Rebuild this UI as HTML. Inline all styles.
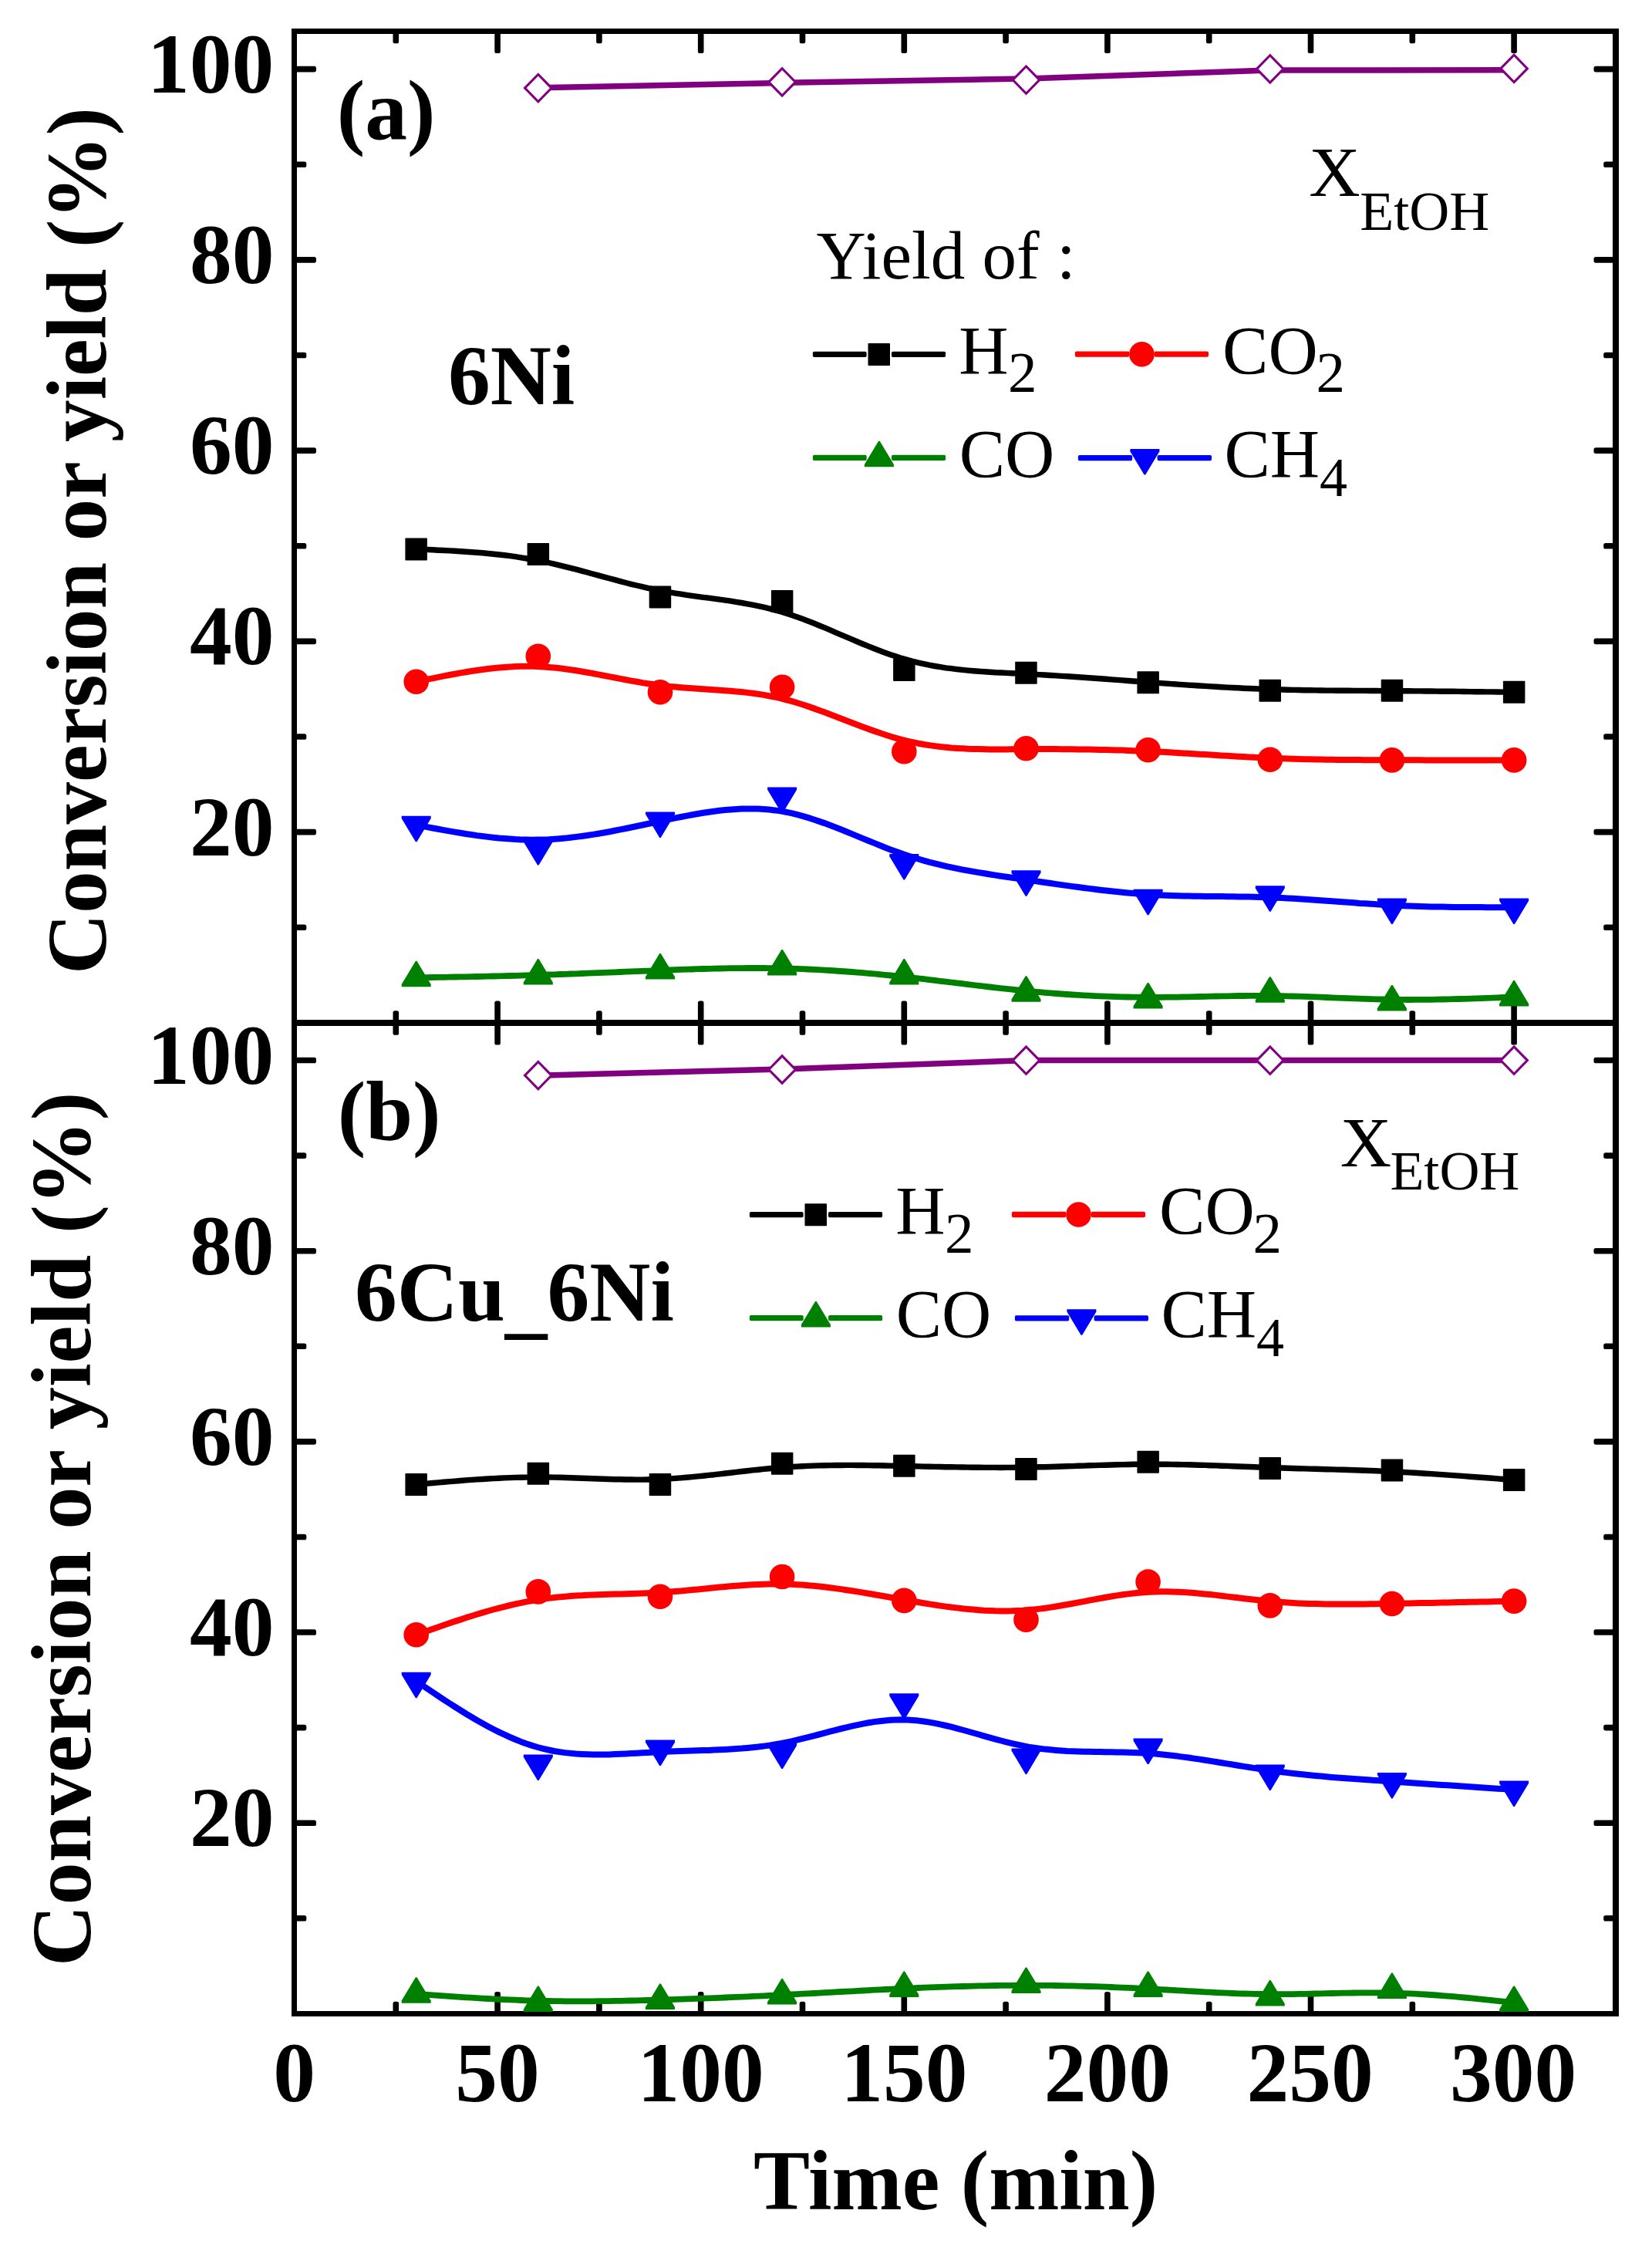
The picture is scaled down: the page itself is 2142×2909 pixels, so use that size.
<!DOCTYPE html>
<html><head><meta charset="utf-8"><title>Conversion or yield vs time</title>
<style>html,body{margin:0;padding:0;background:#fff}svg{display:block}</style></head>
<body>
<svg width="2142" height="2909" viewBox="0 0 2142 2909">
<rect width="2142" height="2909" fill="#fff"/>
<g fill="#000"><rect x="509.50" y="40.50" width="7.6" height="15.80" rx="2.6"/><rect x="509.50" y="1310.20" width="7.6" height="31.60" rx="2.6"/><rect x="509.50" y="2594.70" width="7.6" height="15.80" rx="2.6"/><rect x="641.30" y="40.50" width="7.6" height="28.50" rx="2.6"/><rect x="641.30" y="1297.50" width="7.6" height="57.00" rx="2.6"/><rect x="641.30" y="2582.00" width="7.6" height="28.50" rx="2.6"/><rect x="773.10" y="40.50" width="7.6" height="15.80" rx="2.6"/><rect x="773.10" y="1310.20" width="7.6" height="31.60" rx="2.6"/><rect x="773.10" y="2594.70" width="7.6" height="15.80" rx="2.6"/><rect x="904.90" y="40.50" width="7.6" height="28.50" rx="2.6"/><rect x="904.90" y="1297.50" width="7.6" height="57.00" rx="2.6"/><rect x="904.90" y="2582.00" width="7.6" height="28.50" rx="2.6"/><rect x="1036.70" y="40.50" width="7.6" height="15.80" rx="2.6"/><rect x="1036.70" y="1310.20" width="7.6" height="31.60" rx="2.6"/><rect x="1036.70" y="2594.70" width="7.6" height="15.80" rx="2.6"/><rect x="1168.50" y="40.50" width="7.6" height="28.50" rx="2.6"/><rect x="1168.50" y="1297.50" width="7.6" height="57.00" rx="2.6"/><rect x="1168.50" y="2582.00" width="7.6" height="28.50" rx="2.6"/><rect x="1300.30" y="40.50" width="7.6" height="15.80" rx="2.6"/><rect x="1300.30" y="1310.20" width="7.6" height="31.60" rx="2.6"/><rect x="1300.30" y="2594.70" width="7.6" height="15.80" rx="2.6"/><rect x="1432.10" y="40.50" width="7.6" height="28.50" rx="2.6"/><rect x="1432.10" y="1297.50" width="7.6" height="57.00" rx="2.6"/><rect x="1432.10" y="2582.00" width="7.6" height="28.50" rx="2.6"/><rect x="1563.90" y="40.50" width="7.6" height="15.80" rx="2.6"/><rect x="1563.90" y="1310.20" width="7.6" height="31.60" rx="2.6"/><rect x="1563.90" y="2594.70" width="7.6" height="15.80" rx="2.6"/><rect x="1695.70" y="40.50" width="7.6" height="28.50" rx="2.6"/><rect x="1695.70" y="1297.50" width="7.6" height="57.00" rx="2.6"/><rect x="1695.70" y="2582.00" width="7.6" height="28.50" rx="2.6"/><rect x="1827.50" y="40.50" width="7.6" height="15.80" rx="2.6"/><rect x="1827.50" y="1310.20" width="7.6" height="31.60" rx="2.6"/><rect x="1827.50" y="2594.70" width="7.6" height="15.80" rx="2.6"/><rect x="1959.30" y="40.50" width="7.6" height="28.50" rx="2.6"/><rect x="1959.30" y="1297.50" width="7.6" height="57.00" rx="2.6"/><rect x="1959.30" y="2582.00" width="7.6" height="28.50" rx="2.6"/><rect x="381.50" y="1198.48" width="15.80" height="7.6" rx="2.6"/><rect x="2079.20" y="1198.48" width="15.80" height="7.6" rx="2.6"/><rect x="381.50" y="2483.01" width="15.80" height="7.6" rx="2.6"/><rect x="2079.20" y="2483.01" width="15.80" height="7.6" rx="2.6"/><rect x="381.50" y="1074.85" width="28.50" height="7.6" rx="2.6"/><rect x="2066.50" y="1074.85" width="28.50" height="7.6" rx="2.6"/><rect x="381.50" y="2359.42" width="28.50" height="7.6" rx="2.6"/><rect x="2066.50" y="2359.42" width="28.50" height="7.6" rx="2.6"/><rect x="381.50" y="951.23" width="15.80" height="7.6" rx="2.6"/><rect x="2079.20" y="951.23" width="15.80" height="7.6" rx="2.6"/><rect x="381.50" y="2235.83" width="15.80" height="7.6" rx="2.6"/><rect x="2079.20" y="2235.83" width="15.80" height="7.6" rx="2.6"/><rect x="381.50" y="827.60" width="28.50" height="7.6" rx="2.6"/><rect x="2066.50" y="827.60" width="28.50" height="7.6" rx="2.6"/><rect x="381.50" y="2112.24" width="28.50" height="7.6" rx="2.6"/><rect x="2066.50" y="2112.24" width="28.50" height="7.6" rx="2.6"/><rect x="381.50" y="703.98" width="15.80" height="7.6" rx="2.6"/><rect x="2079.20" y="703.98" width="15.80" height="7.6" rx="2.6"/><rect x="381.50" y="1988.65" width="15.80" height="7.6" rx="2.6"/><rect x="2079.20" y="1988.65" width="15.80" height="7.6" rx="2.6"/><rect x="381.50" y="580.35" width="28.50" height="7.6" rx="2.6"/><rect x="2066.50" y="580.35" width="28.50" height="7.6" rx="2.6"/><rect x="381.50" y="1865.06" width="28.50" height="7.6" rx="2.6"/><rect x="2066.50" y="1865.06" width="28.50" height="7.6" rx="2.6"/><rect x="381.50" y="456.73" width="15.80" height="7.6" rx="2.6"/><rect x="2079.20" y="456.73" width="15.80" height="7.6" rx="2.6"/><rect x="381.50" y="1741.47" width="15.80" height="7.6" rx="2.6"/><rect x="2079.20" y="1741.47" width="15.80" height="7.6" rx="2.6"/><rect x="381.50" y="333.10" width="28.50" height="7.6" rx="2.6"/><rect x="2066.50" y="333.10" width="28.50" height="7.6" rx="2.6"/><rect x="381.50" y="1617.88" width="28.50" height="7.6" rx="2.6"/><rect x="2066.50" y="1617.88" width="28.50" height="7.6" rx="2.6"/><rect x="381.50" y="209.48" width="15.80" height="7.6" rx="2.6"/><rect x="2079.20" y="209.48" width="15.80" height="7.6" rx="2.6"/><rect x="381.50" y="1494.29" width="15.80" height="7.6" rx="2.6"/><rect x="2079.20" y="1494.29" width="15.80" height="7.6" rx="2.6"/><rect x="381.50" y="85.85" width="28.50" height="7.6" rx="2.6"/><rect x="2066.50" y="85.85" width="28.50" height="7.6" rx="2.6"/><rect x="381.50" y="1370.70" width="28.50" height="7.6" rx="2.6"/><rect x="2066.50" y="1370.70" width="28.50" height="7.6" rx="2.6"/></g>
<g fill="#000"><rect x="378" y="37" width="7" height="2577"/><rect x="378" y="37" width="1721" height="7"/><rect x="2091" y="37" width="8" height="2577"/><rect x="378" y="2607" width="1721" height="7"/><rect x="378" y="1322" width="1721" height="8"/></g>
<path d="M539.7 711.9 L546.8 712.2 L554.0 712.5 L561.1 712.8 L568.3 713.2 L575.4 713.5 L582.6 713.9 L589.7 714.3 L596.9 714.7 L604.0 715.2 L611.2 715.7 L618.3 716.2 L625.5 716.8 L632.6 717.5 L639.8 718.2 L647.0 719.0 L654.1 719.8 L661.3 720.7 L668.4 721.7 L675.6 722.8 L682.7 724.0 L689.9 725.2 L697.0 726.5 L704.2 728.0 L711.3 729.5 L718.5 731.1 L725.6 732.8 L732.8 734.6 L739.9 736.4 L747.1 738.2 L754.2 740.1 L761.4 742.0 L768.6 744.0 L775.7 745.9 L782.9 747.8 L790.0 749.8 L797.2 751.7 L804.3 753.6 L811.5 755.5 L818.6 757.3 L825.8 759.0 L832.9 760.7 L840.1 762.3 L847.2 763.9 L854.4 765.3 L861.5 766.7 L868.7 767.9 L875.8 769.1 L883.0 770.2 L890.2 771.3 L897.3 772.3 L904.5 773.3 L911.6 774.3 L918.8 775.2 L925.9 776.2 L933.1 777.2 L940.2 778.2 L947.4 779.2 L954.5 780.4 L961.7 781.5 L968.8 782.8 L976.0 784.2 L983.1 785.6 L990.3 787.2 L997.4 788.9 L1004.6 790.8 L1011.8 792.8 L1018.9 794.9 L1026.1 797.3 L1033.2 799.7 L1040.4 802.3 L1047.5 805.0 L1054.7 807.8 L1061.8 810.7 L1069.0 813.7 L1076.1 816.7 L1083.3 819.8 L1090.4 822.8 L1097.6 825.9 L1104.7 828.9 L1111.9 832.0 L1119.1 835.0 L1126.2 837.9 L1133.4 840.7 L1140.5 843.5 L1147.7 846.2 L1154.8 848.7 L1162.0 851.1 L1169.1 853.4 L1176.3 855.4 L1183.4 857.4 L1190.6 859.1 L1197.7 860.7 L1204.9 862.2 L1212.0 863.5 L1219.2 864.7 L1226.3 865.8 L1233.5 866.7 L1240.7 867.6 L1247.8 868.4 L1255.0 869.1 L1262.1 869.7 L1269.3 870.3 L1276.4 870.8 L1283.6 871.2 L1290.7 871.7 L1297.9 872.0 L1305.0 872.4 L1312.2 872.8 L1319.3 873.1 L1326.5 873.5 L1333.6 873.8 L1340.8 874.2 L1347.9 874.6 L1355.1 875.0 L1362.3 875.5 L1369.4 875.9 L1376.6 876.4 L1383.7 876.8 L1390.9 877.3 L1398.0 877.8 L1405.2 878.3 L1412.3 878.8 L1419.5 879.3 L1426.6 879.8 L1433.8 880.3 L1440.9 880.9 L1448.1 881.4 L1455.2 881.9 L1462.4 882.5 L1469.5 883.0 L1476.7 883.5 L1483.9 884.0 L1491.0 884.6 L1498.2 885.1 L1505.3 885.6 L1512.5 886.1 L1519.6 886.6 L1526.8 887.1 L1533.9 887.6 L1541.1 888.1 L1548.2 888.5 L1555.4 889.0 L1562.5 889.4 L1569.7 889.9 L1576.8 890.3 L1584.0 890.7 L1591.1 891.1 L1598.3 891.5 L1605.5 891.8 L1612.6 892.2 L1619.8 892.5 L1626.9 892.8 L1634.1 893.1 L1641.2 893.3 L1648.4 893.6 L1655.5 893.8 L1662.7 894.0 L1669.8 894.2 L1677.0 894.4 L1684.1 894.5 L1691.3 894.7 L1698.4 894.8 L1705.6 894.9 L1712.7 895.0 L1719.9 895.1 L1727.1 895.1 L1734.2 895.2 L1741.4 895.3 L1748.5 895.3 L1755.7 895.4 L1762.8 895.4 L1770.0 895.4 L1777.1 895.5 L1784.3 895.5 L1791.4 895.6 L1798.6 895.6 L1805.7 895.6 L1812.9 895.7 L1820.0 895.7 L1827.2 895.8 L1834.3 895.9 L1841.5 895.9 L1848.7 896.0 L1855.8 896.0 L1863.0 896.1 L1870.1 896.2 L1877.3 896.3 L1884.4 896.3 L1891.6 896.4 L1898.7 896.5 L1905.9 896.6 L1913.0 896.7 L1920.2 896.8 L1927.3 896.9 L1934.5 896.9 L1941.6 897.0 L1948.8 897.1 L1955.9 897.2 L1963.1 897.3" fill="none" stroke="#000" stroke-width="7.4" stroke-linejoin="round"/>
<rect x="525.4" y="697.4" width="28.5" height="29.0" rx="0.8" fill="#000"/><rect x="683.6" y="704.1" width="28.5" height="29.0" rx="0.8" fill="#000"/><rect x="841.7" y="759.4" width="28.5" height="29.0" rx="0.8" fill="#000"/><rect x="999.9" y="765.1" width="28.5" height="29.0" rx="0.8" fill="#000"/><rect x="1158.1" y="854.0" width="28.5" height="29.0" rx="0.8" fill="#000"/><rect x="1316.2" y="857.8" width="28.5" height="29.0" rx="0.8" fill="#000"/><rect x="1474.4" y="870.2" width="28.5" height="29.0" rx="0.8" fill="#000"/><rect x="1632.5" y="880.8" width="28.5" height="29.0" rx="0.8" fill="#000"/><rect x="1790.7" y="880.8" width="28.5" height="29.0" rx="0.8" fill="#000"/><rect x="1948.9" y="882.8" width="28.5" height="29.0" rx="0.8" fill="#000"/>
<path d="M539.7 883.7 L546.8 882.2 L554.0 880.7 L561.1 879.3 L568.3 877.8 L575.4 876.4 L582.6 875.0 L589.7 873.7 L596.9 872.4 L604.0 871.2 L611.2 870.0 L618.3 869.0 L625.5 868.0 L632.6 867.0 L639.8 866.2 L647.0 865.5 L654.1 864.9 L661.3 864.4 L668.4 864.1 L675.6 863.8 L682.7 863.7 L689.9 863.8 L697.0 864.0 L704.2 864.4 L711.3 864.9 L718.5 865.6 L725.6 866.3 L732.8 867.2 L739.9 868.2 L747.1 869.3 L754.2 870.5 L761.4 871.7 L768.6 873.0 L775.7 874.4 L782.9 875.7 L790.0 877.1 L797.2 878.5 L804.3 879.9 L811.5 881.2 L818.6 882.6 L825.8 883.8 L832.9 885.1 L840.1 886.2 L847.2 887.3 L854.4 888.3 L861.5 889.1 L868.7 889.9 L875.8 890.6 L883.0 891.2 L890.2 891.8 L897.3 892.3 L904.5 892.8 L911.6 893.3 L918.8 893.7 L925.9 894.2 L933.1 894.7 L940.2 895.2 L947.4 895.8 L954.5 896.4 L961.7 897.1 L968.8 897.9 L976.0 898.8 L983.1 899.8 L990.3 900.9 L997.4 902.2 L1004.6 903.6 L1011.8 905.2 L1018.9 907.0 L1026.1 908.9 L1033.2 911.0 L1040.4 913.3 L1047.5 915.6 L1054.7 918.1 L1061.8 920.7 L1069.0 923.3 L1076.1 926.0 L1083.3 928.7 L1090.4 931.5 L1097.6 934.2 L1104.7 937.0 L1111.9 939.7 L1119.1 942.4 L1126.2 945.1 L1133.4 947.6 L1140.5 950.1 L1147.7 952.5 L1154.8 954.8 L1162.0 956.9 L1169.1 958.8 L1176.3 960.6 L1183.4 962.2 L1190.6 963.7 L1197.7 965.0 L1204.9 966.1 L1212.0 967.1 L1219.2 968.0 L1226.3 968.7 L1233.5 969.4 L1240.7 969.9 L1247.8 970.3 L1255.0 970.7 L1262.1 970.9 L1269.3 971.1 L1276.4 971.3 L1283.6 971.4 L1290.7 971.4 L1297.9 971.4 L1305.0 971.4 L1312.2 971.3 L1319.3 971.3 L1326.5 971.2 L1333.6 971.2 L1340.8 971.1 L1347.9 971.1 L1355.1 971.1 L1362.3 971.1 L1369.4 971.1 L1376.6 971.2 L1383.7 971.2 L1390.9 971.3 L1398.0 971.4 L1405.2 971.5 L1412.3 971.6 L1419.5 971.7 L1426.6 971.9 L1433.8 972.0 L1440.9 972.2 L1448.1 972.4 L1455.2 972.6 L1462.4 972.9 L1469.5 973.2 L1476.7 973.4 L1483.9 973.7 L1491.0 974.1 L1498.2 974.4 L1505.3 974.8 L1512.5 975.1 L1519.6 975.5 L1526.8 976.0 L1533.9 976.4 L1541.1 976.8 L1548.2 977.2 L1555.4 977.7 L1562.5 978.1 L1569.7 978.5 L1576.8 979.0 L1584.0 979.4 L1591.1 979.8 L1598.3 980.3 L1605.5 980.7 L1612.6 981.1 L1619.8 981.5 L1626.9 981.8 L1634.1 982.2 L1641.2 982.5 L1648.4 982.8 L1655.5 983.1 L1662.7 983.3 L1669.8 983.6 L1677.0 983.8 L1684.1 984.0 L1691.3 984.2 L1698.4 984.3 L1705.6 984.5 L1712.7 984.6 L1719.9 984.7 L1727.1 984.8 L1734.2 984.9 L1741.4 985.0 L1748.5 985.0 L1755.7 985.1 L1762.8 985.1 L1770.0 985.2 L1777.1 985.2 L1784.3 985.2 L1791.4 985.2 L1798.6 985.3 L1805.7 985.3 L1812.9 985.3 L1820.0 985.3 L1827.2 985.3 L1834.3 985.3 L1841.5 985.3 L1848.7 985.4 L1855.8 985.4 L1863.0 985.4 L1870.1 985.4 L1877.3 985.4 L1884.4 985.4 L1891.6 985.4 L1898.7 985.4 L1905.9 985.4 L1913.0 985.4 L1920.2 985.4 L1927.3 985.4 L1934.5 985.4 L1941.6 985.4 L1948.8 985.4 L1955.9 985.4 L1963.1 985.4" fill="none" stroke="#f00" stroke-width="8" stroke-linejoin="round"/>
<circle cx="539.7" cy="883.7" r="16.3" fill="#f00"/><circle cx="697.8" cy="850.8" r="16.3" fill="#f00"/><circle cx="856.0" cy="897.3" r="16.3" fill="#f00"/><circle cx="1014.1" cy="890.8" r="16.3" fill="#f00"/><circle cx="1172.3" cy="974.2" r="16.3" fill="#f00"/><circle cx="1330.5" cy="970.2" r="16.3" fill="#f00"/><circle cx="1488.6" cy="972.2" r="16.3" fill="#f00"/><circle cx="1646.8" cy="984.7" r="16.3" fill="#f00"/><circle cx="1804.9" cy="985.4" r="16.3" fill="#f00"/><circle cx="1963.1" cy="985.4" r="16.3" fill="#f00"/>
<path d="M539.7 1267.4 L546.8 1267.3 L554.0 1267.2 L561.1 1267.0 L568.3 1266.9 L575.4 1266.8 L582.6 1266.7 L589.7 1266.5 L596.9 1266.4 L604.0 1266.3 L611.2 1266.1 L618.3 1266.0 L625.5 1265.8 L632.6 1265.7 L639.8 1265.5 L647.0 1265.3 L654.1 1265.2 L661.3 1265.0 L668.4 1264.8 L675.6 1264.6 L682.7 1264.4 L689.9 1264.2 L697.0 1264.0 L704.2 1263.8 L711.3 1263.5 L718.5 1263.3 L725.6 1263.0 L732.8 1262.8 L739.9 1262.5 L747.1 1262.3 L754.2 1262.0 L761.4 1261.7 L768.6 1261.4 L775.7 1261.1 L782.9 1260.9 L790.0 1260.6 L797.2 1260.3 L804.3 1260.0 L811.5 1259.7 L818.6 1259.4 L825.8 1259.1 L832.9 1258.8 L840.1 1258.6 L847.2 1258.3 L854.4 1258.0 L861.5 1257.7 L868.7 1257.5 L875.8 1257.2 L883.0 1256.9 L890.2 1256.7 L897.3 1256.5 L904.5 1256.2 L911.6 1256.0 L918.8 1255.8 L925.9 1255.7 L933.1 1255.5 L940.2 1255.4 L947.4 1255.2 L954.5 1255.1 L961.7 1255.1 L968.8 1255.0 L976.0 1255.0 L983.1 1255.0 L990.3 1255.0 L997.4 1255.1 L1004.6 1255.2 L1011.8 1255.3 L1018.9 1255.5 L1026.1 1255.7 L1033.2 1255.9 L1040.4 1256.2 L1047.5 1256.5 L1054.7 1256.8 L1061.8 1257.2 L1069.0 1257.6 L1076.1 1258.0 L1083.3 1258.5 L1090.4 1259.0 L1097.6 1259.5 L1104.7 1260.0 L1111.9 1260.6 L1119.1 1261.2 L1126.2 1261.8 L1133.4 1262.4 L1140.5 1263.1 L1147.7 1263.8 L1154.8 1264.5 L1162.0 1265.3 L1169.1 1266.0 L1176.3 1266.8 L1183.4 1267.6 L1190.6 1268.4 L1197.7 1269.2 L1204.9 1270.1 L1212.0 1270.9 L1219.2 1271.8 L1226.3 1272.6 L1233.5 1273.5 L1240.7 1274.4 L1247.8 1275.2 L1255.0 1276.1 L1262.1 1277.0 L1269.3 1277.8 L1276.4 1278.7 L1283.6 1279.5 L1290.7 1280.3 L1297.9 1281.2 L1305.0 1281.9 L1312.2 1282.7 L1319.3 1283.5 L1326.5 1284.2 L1333.6 1284.9 L1340.8 1285.6 L1347.9 1286.2 L1355.1 1286.8 L1362.3 1287.4 L1369.4 1288.0 L1376.6 1288.5 L1383.7 1289.0 L1390.9 1289.5 L1398.0 1289.9 L1405.2 1290.3 L1412.3 1290.7 L1419.5 1291.1 L1426.6 1291.4 L1433.8 1291.7 L1440.9 1291.9 L1448.1 1292.2 L1455.2 1292.4 L1462.4 1292.5 L1469.5 1292.7 L1476.7 1292.7 L1483.9 1292.8 L1491.0 1292.8 L1498.2 1292.8 L1505.3 1292.8 L1512.5 1292.7 L1519.6 1292.7 L1526.8 1292.6 L1533.9 1292.4 L1541.1 1292.3 L1548.2 1292.2 L1555.4 1292.0 L1562.5 1291.9 L1569.7 1291.7 L1576.8 1291.5 L1584.0 1291.4 L1591.1 1291.3 L1598.3 1291.1 L1605.5 1291.0 L1612.6 1291.0 L1619.8 1290.9 L1626.9 1290.8 L1634.1 1290.8 L1641.2 1290.9 L1648.4 1290.9 L1655.5 1291.0 L1662.7 1291.1 L1669.8 1291.3 L1677.0 1291.5 L1684.1 1291.7 L1691.3 1291.9 L1698.4 1292.2 L1705.6 1292.4 L1712.7 1292.7 L1719.9 1293.0 L1727.1 1293.3 L1734.2 1293.6 L1741.4 1293.9 L1748.5 1294.1 L1755.7 1294.4 L1762.8 1294.7 L1770.0 1294.9 L1777.1 1295.1 L1784.3 1295.3 L1791.4 1295.5 L1798.6 1295.7 L1805.7 1295.8 L1812.9 1295.9 L1820.0 1295.9 L1827.2 1296.0 L1834.3 1295.9 L1841.5 1295.9 L1848.7 1295.8 L1855.8 1295.8 L1863.0 1295.6 L1870.1 1295.5 L1877.3 1295.4 L1884.4 1295.2 L1891.6 1295.0 L1898.7 1294.8 L1905.9 1294.6 L1913.0 1294.3 L1920.2 1294.1 L1927.3 1293.8 L1934.5 1293.6 L1941.6 1293.3 L1948.8 1293.0 L1955.9 1292.8 L1963.1 1292.5" fill="none" stroke="#008000" stroke-width="7.8" stroke-linejoin="round"/>
<path d="M520.7 1279.3 h38 v-3.2 L540.5 1245.8 h-1.6 L520.7 1276.1z" fill="#008000"/><path d="M678.8 1276.6 h38 v-3.2 L698.6 1243.1 h-1.6 L678.8 1273.4z" fill="#008000"/><path d="M837.0 1269.5 h38 v-3.2 L856.8 1236.0 h-1.6 L837.0 1266.3z" fill="#008000"/><path d="M995.1 1264.4 h38 v-3.2 L1014.9 1230.9 h-1.6 L995.1 1261.2z" fill="#008000"/><path d="M1153.3 1276.6 h38 v-3.2 L1173.1 1243.1 h-1.6 L1153.3 1273.4z" fill="#008000"/><path d="M1311.5 1298.7 h38 v-3.2 L1331.3 1265.2 h-1.6 L1311.5 1295.5z" fill="#008000"/><path d="M1469.6 1307.5 h38 v-3.2 L1489.4 1274.0 h-1.6 L1469.6 1304.3z" fill="#008000"/><path d="M1627.8 1299.7 h38 v-3.2 L1647.6 1266.2 h-1.6 L1627.8 1296.5z" fill="#008000"/><path d="M1785.9 1310.5 h38 v-3.2 L1805.7 1277.0 h-1.6 L1785.9 1307.3z" fill="#008000"/><path d="M1944.1 1304.4 h38 v-3.2 L1963.9 1270.9 h-1.6 L1944.1 1301.2z" fill="#008000"/>
<path d="M539.7 1069.4 L546.8 1070.8 L554.0 1072.1 L561.1 1073.5 L568.3 1074.8 L575.4 1076.1 L582.6 1077.4 L589.7 1078.6 L596.9 1079.8 L604.0 1081.0 L611.2 1082.0 L618.3 1083.1 L625.5 1084.0 L632.6 1084.9 L639.8 1085.7 L647.0 1086.5 L654.1 1087.1 L661.3 1087.6 L668.4 1088.1 L675.6 1088.4 L682.7 1088.6 L689.9 1088.7 L697.0 1088.6 L704.2 1088.5 L711.3 1088.2 L718.5 1087.7 L725.6 1087.2 L732.8 1086.6 L739.9 1085.8 L747.1 1084.9 L754.2 1084.0 L761.4 1083.0 L768.6 1081.9 L775.7 1080.7 L782.9 1079.5 L790.0 1078.2 L797.2 1076.8 L804.3 1075.4 L811.5 1074.0 L818.6 1072.5 L825.8 1071.0 L832.9 1069.5 L840.1 1068.0 L847.2 1066.5 L854.4 1065.0 L861.5 1063.4 L868.7 1061.9 L875.8 1060.4 L883.0 1059.0 L890.2 1057.6 L897.3 1056.3 L904.5 1055.0 L911.6 1053.8 L918.8 1052.7 L925.9 1051.7 L933.1 1050.8 L940.2 1050.1 L947.4 1049.4 L954.5 1048.9 L961.7 1048.6 L968.8 1048.4 L976.0 1048.4 L983.1 1048.6 L990.3 1049.0 L997.4 1049.6 L1004.6 1050.4 L1011.8 1051.4 L1018.9 1052.7 L1026.1 1054.2 L1033.2 1055.9 L1040.4 1057.8 L1047.5 1059.9 L1054.7 1062.2 L1061.8 1064.6 L1069.0 1067.1 L1076.1 1069.8 L1083.3 1072.5 L1090.4 1075.3 L1097.6 1078.2 L1104.7 1081.1 L1111.9 1084.1 L1119.1 1087.1 L1126.2 1090.0 L1133.4 1092.9 L1140.5 1095.8 L1147.7 1098.7 L1154.8 1101.4 L1162.0 1104.1 L1169.1 1106.6 L1176.3 1109.1 L1183.4 1111.4 L1190.6 1113.5 L1197.7 1115.6 L1204.9 1117.6 L1212.0 1119.4 L1219.2 1121.1 L1226.3 1122.8 L1233.5 1124.4 L1240.7 1125.9 L1247.8 1127.3 L1255.0 1128.6 L1262.1 1129.9 L1269.3 1131.1 L1276.4 1132.3 L1283.6 1133.5 L1290.7 1134.6 L1297.9 1135.7 L1305.0 1136.7 L1312.2 1137.8 L1319.3 1138.8 L1326.5 1139.8 L1333.6 1140.9 L1340.8 1141.9 L1347.9 1143.0 L1355.1 1144.0 L1362.3 1145.0 L1369.4 1146.1 L1376.6 1147.1 L1383.7 1148.1 L1390.9 1149.1 L1398.0 1150.0 L1405.2 1151.0 L1412.3 1151.9 L1419.5 1152.8 L1426.6 1153.7 L1433.8 1154.5 L1440.9 1155.3 L1448.1 1156.1 L1455.2 1156.8 L1462.4 1157.5 L1469.5 1158.1 L1476.7 1158.7 L1483.9 1159.2 L1491.0 1159.6 L1498.2 1160.1 L1505.3 1160.4 L1512.5 1160.7 L1519.6 1161.0 L1526.8 1161.2 L1533.9 1161.4 L1541.1 1161.5 L1548.2 1161.7 L1555.4 1161.8 L1562.5 1161.9 L1569.7 1162.0 L1576.8 1162.0 L1584.0 1162.1 L1591.1 1162.2 L1598.3 1162.3 L1605.5 1162.4 L1612.6 1162.5 L1619.8 1162.6 L1626.9 1162.7 L1634.1 1162.9 L1641.2 1163.2 L1648.4 1163.4 L1655.5 1163.7 L1662.7 1164.0 L1669.8 1164.4 L1677.0 1164.8 L1684.1 1165.3 L1691.3 1165.7 L1698.4 1166.2 L1705.6 1166.7 L1712.7 1167.2 L1719.9 1167.7 L1727.1 1168.2 L1734.2 1168.8 L1741.4 1169.3 L1748.5 1169.8 L1755.7 1170.3 L1762.8 1170.9 L1770.0 1171.3 L1777.1 1171.8 L1784.3 1172.3 L1791.4 1172.7 L1798.6 1173.1 L1805.7 1173.5 L1812.9 1173.9 L1820.0 1174.2 L1827.2 1174.5 L1834.3 1174.7 L1841.5 1175.0 L1848.7 1175.2 L1855.8 1175.4 L1863.0 1175.5 L1870.1 1175.6 L1877.3 1175.8 L1884.4 1175.9 L1891.6 1175.9 L1898.7 1176.0 L1905.9 1176.1 L1913.0 1176.1 L1920.2 1176.1 L1927.3 1176.2 L1934.5 1176.2 L1941.6 1176.2 L1948.8 1176.2 L1955.9 1176.2 L1963.1 1176.2" fill="none" stroke="#00f" stroke-width="8" stroke-linejoin="round"/>
<path d="M520.7 1057.8 h38 v3.2 L540.5 1091.3 h-1.6 L520.7 1061.0z" fill="#00f"/><path d="M678.8 1088.0 h38 v3.2 L698.6 1121.5 h-1.6 L678.8 1091.2z" fill="#00f"/><path d="M837.0 1052.4 h38 v3.2 L856.8 1085.9 h-1.6 L837.0 1055.6z" fill="#00f"/><path d="M995.1 1020.5 h38 v3.2 L1014.9 1054.0 h-1.6 L995.1 1023.7z" fill="#00f"/><path d="M1153.3 1107.0 h38 v3.2 L1173.1 1140.5 h-1.6 L1153.3 1110.2z" fill="#00f"/><path d="M1311.5 1128.3 h38 v3.2 L1331.3 1161.8 h-1.6 L1311.5 1131.5z" fill="#00f"/><path d="M1469.6 1152.7 h38 v3.2 L1489.4 1186.2 h-1.6 L1469.6 1155.9z" fill="#00f"/><path d="M1627.8 1148.3 h38 v3.2 L1647.6 1181.8 h-1.6 L1627.8 1151.5z" fill="#00f"/><path d="M1785.9 1164.6 h38 v3.2 L1805.7 1198.1 h-1.6 L1785.9 1167.8z" fill="#00f"/><path d="M1944.1 1164.6 h38 v3.2 L1963.9 1198.1 h-1.6 L1944.1 1167.8z" fill="#00f"/>
<path d="M697.8 113.7 L1014.1 107.4 L1330.5 102.1 L1646.8 91.0 L1963.1 90.8" fill="none" stroke="#800080" stroke-width="7.5"/>
<path d="M680.5 114.1 L697.8 96.4 L715.1 114.1 L697.8 131.8z" fill="#fff" stroke="#800080" stroke-width="3.1"/><path d="M996.8 106.4 L1014.1 88.7 L1031.4 106.4 L1014.1 124.1z" fill="#fff" stroke="#800080" stroke-width="3.1"/><path d="M1313.2 103.6 L1330.5 85.9 L1347.8 103.6 L1330.5 121.3z" fill="#fff" stroke="#800080" stroke-width="3.1"/><path d="M1629.5 89.4 L1646.8 71.7 L1664.1 89.4 L1646.8 107.1z" fill="#fff" stroke="#800080" stroke-width="3.1"/><path d="M1945.8 88.9 L1963.1 71.2 L1980.4 88.9 L1963.1 106.6z" fill="#fff" stroke="#800080" stroke-width="3.1"/>
<path d="M539.7 1924.4 L546.8 1923.8 L554.0 1923.1 L561.1 1922.5 L568.3 1921.9 L575.4 1921.2 L582.6 1920.6 L589.7 1920.1 L596.9 1919.5 L604.0 1918.9 L611.2 1918.4 L618.3 1917.9 L625.5 1917.5 L632.6 1917.0 L639.8 1916.6 L647.0 1916.2 L654.1 1915.9 L661.3 1915.6 L668.4 1915.4 L675.6 1915.2 L682.7 1915.1 L689.9 1915.0 L697.0 1914.9 L704.2 1915.0 L711.3 1915.0 L718.5 1915.1 L725.6 1915.3 L732.8 1915.5 L739.9 1915.7 L747.1 1916.0 L754.2 1916.2 L761.4 1916.5 L768.6 1916.7 L775.7 1917.0 L782.9 1917.2 L790.0 1917.5 L797.2 1917.7 L804.3 1917.8 L811.5 1918.0 L818.6 1918.0 L825.8 1918.1 L832.9 1918.1 L840.1 1918.0 L847.2 1917.8 L854.4 1917.6 L861.5 1917.3 L868.7 1916.9 L875.8 1916.4 L883.0 1915.9 L890.2 1915.3 L897.3 1914.6 L904.5 1913.9 L911.6 1913.2 L918.8 1912.4 L925.9 1911.7 L933.1 1910.8 L940.2 1910.0 L947.4 1909.2 L954.5 1908.4 L961.7 1907.5 L968.8 1906.7 L976.0 1905.9 L983.1 1905.2 L990.3 1904.4 L997.4 1903.7 L1004.6 1903.1 L1011.8 1902.5 L1018.9 1902.0 L1026.1 1901.5 L1033.2 1901.1 L1040.4 1900.7 L1047.5 1900.4 L1054.7 1900.1 L1061.8 1899.9 L1069.0 1899.7 L1076.1 1899.6 L1083.3 1899.5 L1090.4 1899.5 L1097.6 1899.4 L1104.7 1899.4 L1111.9 1899.5 L1119.1 1899.5 L1126.2 1899.6 L1133.4 1899.7 L1140.5 1899.8 L1147.7 1900.0 L1154.8 1900.1 L1162.0 1900.3 L1169.1 1900.4 L1176.3 1900.6 L1183.4 1900.7 L1190.6 1900.9 L1197.7 1901.1 L1204.9 1901.2 L1212.0 1901.4 L1219.2 1901.5 L1226.3 1901.7 L1233.5 1901.8 L1240.7 1901.9 L1247.8 1902.0 L1255.0 1902.1 L1262.1 1902.2 L1269.3 1902.3 L1276.4 1902.4 L1283.6 1902.4 L1290.7 1902.4 L1297.9 1902.5 L1305.0 1902.4 L1312.2 1902.4 L1319.3 1902.3 L1326.5 1902.3 L1333.6 1902.1 L1340.8 1902.0 L1347.9 1901.8 L1355.1 1901.7 L1362.3 1901.5 L1369.4 1901.3 L1376.6 1901.0 L1383.7 1900.8 L1390.9 1900.6 L1398.0 1900.3 L1405.2 1900.1 L1412.3 1899.8 L1419.5 1899.6 L1426.6 1899.4 L1433.8 1899.2 L1440.9 1899.0 L1448.1 1898.8 L1455.2 1898.6 L1462.4 1898.5 L1469.5 1898.3 L1476.7 1898.3 L1483.9 1898.2 L1491.0 1898.2 L1498.2 1898.2 L1505.3 1898.2 L1512.5 1898.3 L1519.6 1898.4 L1526.8 1898.5 L1533.9 1898.6 L1541.1 1898.8 L1548.2 1899.0 L1555.4 1899.2 L1562.5 1899.4 L1569.7 1899.7 L1576.8 1899.9 L1584.0 1900.2 L1591.1 1900.4 L1598.3 1900.7 L1605.5 1901.0 L1612.6 1901.2 L1619.8 1901.5 L1626.9 1901.8 L1634.1 1902.1 L1641.2 1902.3 L1648.4 1902.6 L1655.5 1902.8 L1662.7 1903.0 L1669.8 1903.2 L1677.0 1903.5 L1684.1 1903.7 L1691.3 1903.9 L1698.4 1904.1 L1705.6 1904.3 L1712.7 1904.5 L1719.9 1904.7 L1727.1 1904.9 L1734.2 1905.1 L1741.4 1905.3 L1748.5 1905.5 L1755.7 1905.8 L1762.8 1906.0 L1770.0 1906.3 L1777.1 1906.5 L1784.3 1906.8 L1791.4 1907.1 L1798.6 1907.4 L1805.7 1907.8 L1812.9 1908.1 L1820.0 1908.5 L1827.2 1908.9 L1834.3 1909.3 L1841.5 1909.7 L1848.7 1910.2 L1855.8 1910.6 L1863.0 1911.1 L1870.1 1911.6 L1877.3 1912.1 L1884.4 1912.6 L1891.6 1913.1 L1898.7 1913.6 L1905.9 1914.2 L1913.0 1914.7 L1920.2 1915.2 L1927.3 1915.8 L1934.5 1916.3 L1941.6 1916.9 L1948.8 1917.5 L1955.9 1918.0 L1963.1 1918.6" fill="none" stroke="#000" stroke-width="7.4" stroke-linejoin="round"/>
<rect x="525.4" y="1910.0" width="28.5" height="29.0" rx="0.8" fill="#000"/><rect x="683.6" y="1895.8" width="28.5" height="29.0" rx="0.8" fill="#000"/><rect x="841.7" y="1910.0" width="28.5" height="29.0" rx="0.8" fill="#000"/><rect x="999.9" y="1882.8" width="28.5" height="29.0" rx="0.8" fill="#000"/><rect x="1158.1" y="1885.8" width="28.5" height="29.0" rx="0.8" fill="#000"/><rect x="1316.2" y="1890.0" width="28.5" height="29.0" rx="0.8" fill="#000"/><rect x="1474.4" y="1880.8" width="28.5" height="29.0" rx="0.8" fill="#000"/><rect x="1632.5" y="1889.0" width="28.5" height="29.0" rx="0.8" fill="#000"/><rect x="1790.7" y="1891.6" width="28.5" height="29.0" rx="0.8" fill="#000"/><rect x="1948.9" y="1904.1" width="28.5" height="29.0" rx="0.8" fill="#000"/>
<path d="M539.7 2119.3 L546.8 2116.8 L554.0 2114.3 L561.1 2111.7 L568.3 2109.2 L575.4 2106.8 L582.6 2104.3 L589.7 2101.9 L596.9 2099.6 L604.0 2097.2 L611.2 2095.0 L618.3 2092.8 L625.5 2090.6 L632.6 2088.5 L639.8 2086.5 L647.0 2084.6 L654.1 2082.8 L661.3 2081.0 L668.4 2079.4 L675.6 2077.9 L682.7 2076.4 L689.9 2075.1 L697.0 2073.9 L704.2 2072.8 L711.3 2071.9 L718.5 2071.0 L725.6 2070.3 L732.8 2069.7 L739.9 2069.1 L747.1 2068.6 L754.2 2068.2 L761.4 2067.8 L768.6 2067.5 L775.7 2067.3 L782.9 2067.0 L790.0 2066.8 L797.2 2066.6 L804.3 2066.4 L811.5 2066.2 L818.6 2066.0 L825.8 2065.8 L832.9 2065.6 L840.1 2065.3 L847.2 2064.9 L854.4 2064.5 L861.5 2064.1 L868.7 2063.6 L875.8 2063.0 L883.0 2062.4 L890.2 2061.7 L897.3 2061.1 L904.5 2060.4 L911.6 2059.7 L918.8 2059.0 L925.9 2058.3 L933.1 2057.6 L940.2 2056.9 L947.4 2056.3 L954.5 2055.7 L961.7 2055.2 L968.8 2054.7 L976.0 2054.3 L983.1 2053.9 L990.3 2053.7 L997.4 2053.5 L1004.6 2053.4 L1011.8 2053.4 L1018.9 2053.6 L1026.1 2053.8 L1033.2 2054.2 L1040.4 2054.6 L1047.5 2055.2 L1054.7 2055.8 L1061.8 2056.5 L1069.0 2057.3 L1076.1 2058.2 L1083.3 2059.1 L1090.4 2060.1 L1097.6 2061.2 L1104.7 2062.2 L1111.9 2063.4 L1119.1 2064.6 L1126.2 2065.8 L1133.4 2067.0 L1140.5 2068.2 L1147.7 2069.5 L1154.8 2070.8 L1162.0 2072.1 L1169.1 2073.3 L1176.3 2074.6 L1183.4 2075.8 L1190.6 2077.0 L1197.7 2078.2 L1204.9 2079.4 L1212.0 2080.5 L1219.2 2081.6 L1226.3 2082.6 L1233.5 2083.5 L1240.7 2084.4 L1247.8 2085.3 L1255.0 2086.0 L1262.1 2086.6 L1269.3 2087.2 L1276.4 2087.7 L1283.6 2088.0 L1290.7 2088.3 L1297.9 2088.4 L1305.0 2088.4 L1312.2 2088.3 L1319.3 2088.0 L1326.5 2087.7 L1333.6 2087.1 L1340.8 2086.4 L1347.9 2085.6 L1355.1 2084.7 L1362.3 2083.6 L1369.4 2082.5 L1376.6 2081.3 L1383.7 2080.0 L1390.9 2078.7 L1398.0 2077.4 L1405.2 2076.1 L1412.3 2074.7 L1419.5 2073.4 L1426.6 2072.0 L1433.8 2070.8 L1440.9 2069.5 L1448.1 2068.4 L1455.2 2067.3 L1462.4 2066.4 L1469.5 2065.5 L1476.7 2064.8 L1483.9 2064.2 L1491.0 2063.7 L1498.2 2063.4 L1505.3 2063.3 L1512.5 2063.3 L1519.6 2063.5 L1526.8 2063.7 L1533.9 2064.1 L1541.1 2064.5 L1548.2 2065.1 L1555.4 2065.7 L1562.5 2066.4 L1569.7 2067.1 L1576.8 2067.9 L1584.0 2068.8 L1591.1 2069.6 L1598.3 2070.5 L1605.5 2071.3 L1612.6 2072.2 L1619.8 2073.0 L1626.9 2073.8 L1634.1 2074.6 L1641.2 2075.3 L1648.4 2076.0 L1655.5 2076.6 L1662.7 2077.1 L1669.8 2077.6 L1677.0 2078.0 L1684.1 2078.4 L1691.3 2078.7 L1698.4 2078.9 L1705.6 2079.1 L1712.7 2079.3 L1719.9 2079.4 L1727.1 2079.5 L1734.2 2079.5 L1741.4 2079.6 L1748.5 2079.6 L1755.7 2079.5 L1762.8 2079.5 L1770.0 2079.4 L1777.1 2079.3 L1784.3 2079.2 L1791.4 2079.1 L1798.6 2078.9 L1805.7 2078.8 L1812.9 2078.7 L1820.0 2078.6 L1827.2 2078.4 L1834.3 2078.3 L1841.5 2078.1 L1848.7 2078.0 L1855.8 2077.9 L1863.0 2077.7 L1870.1 2077.6 L1877.3 2077.4 L1884.4 2077.3 L1891.6 2077.1 L1898.7 2077.0 L1905.9 2076.8 L1913.0 2076.7 L1920.2 2076.5 L1927.3 2076.4 L1934.5 2076.2 L1941.6 2076.1 L1948.8 2075.9 L1955.9 2075.8 L1963.1 2075.6" fill="none" stroke="#f00" stroke-width="8" stroke-linejoin="round"/>
<circle cx="539.7" cy="2119.3" r="16.3" fill="#f00"/><circle cx="697.8" cy="2063.4" r="16.3" fill="#f00"/><circle cx="856.0" cy="2069.8" r="16.3" fill="#f00"/><circle cx="1014.1" cy="2044.0" r="16.3" fill="#f00"/><circle cx="1172.3" cy="2074.9" r="16.3" fill="#f00"/><circle cx="1330.5" cy="2099.7" r="16.3" fill="#f00"/><circle cx="1488.6" cy="2050.5" r="16.3" fill="#f00"/><circle cx="1646.8" cy="2081.4" r="16.3" fill="#f00"/><circle cx="1804.9" cy="2079.0" r="16.3" fill="#f00"/><circle cx="1963.1" cy="2075.6" r="16.3" fill="#f00"/>
<path d="M539.7 2584.9 L546.8 2585.4 L554.0 2585.9 L561.1 2586.4 L568.3 2586.9 L575.4 2587.4 L582.6 2587.9 L589.7 2588.4 L596.9 2588.8 L604.0 2589.3 L611.2 2589.7 L618.3 2590.2 L625.5 2590.6 L632.6 2591.0 L639.8 2591.4 L647.0 2591.8 L654.1 2592.1 L661.3 2592.4 L668.4 2592.7 L675.6 2593.0 L682.7 2593.3 L689.9 2593.5 L697.0 2593.7 L704.2 2593.9 L711.3 2594.0 L718.5 2594.2 L725.6 2594.2 L732.8 2594.3 L739.9 2594.4 L747.1 2594.4 L754.2 2594.4 L761.4 2594.3 L768.6 2594.3 L775.7 2594.2 L782.9 2594.2 L790.0 2594.1 L797.2 2593.9 L804.3 2593.8 L811.5 2593.7 L818.6 2593.5 L825.8 2593.3 L832.9 2593.2 L840.1 2593.0 L847.2 2592.8 L854.4 2592.6 L861.5 2592.3 L868.7 2592.1 L875.8 2591.9 L883.0 2591.7 L890.2 2591.4 L897.3 2591.2 L904.5 2590.9 L911.6 2590.6 L918.8 2590.4 L925.9 2590.1 L933.1 2589.8 L940.2 2589.5 L947.4 2589.2 L954.5 2588.9 L961.7 2588.6 L968.8 2588.3 L976.0 2587.9 L983.1 2587.6 L990.3 2587.3 L997.4 2586.9 L1004.6 2586.6 L1011.8 2586.2 L1018.9 2585.9 L1026.1 2585.5 L1033.2 2585.1 L1040.4 2584.7 L1047.5 2584.4 L1054.7 2584.0 L1061.8 2583.6 L1069.0 2583.2 L1076.1 2582.8 L1083.3 2582.4 L1090.4 2582.0 L1097.6 2581.6 L1104.7 2581.3 L1111.9 2580.9 L1119.1 2580.5 L1126.2 2580.1 L1133.4 2579.7 L1140.5 2579.4 L1147.7 2579.0 L1154.8 2578.7 L1162.0 2578.3 L1169.1 2578.0 L1176.3 2577.7 L1183.4 2577.3 L1190.6 2577.0 L1197.7 2576.7 L1204.9 2576.4 L1212.0 2576.2 L1219.2 2575.9 L1226.3 2575.6 L1233.5 2575.4 L1240.7 2575.2 L1247.8 2575.0 L1255.0 2574.8 L1262.1 2574.6 L1269.3 2574.4 L1276.4 2574.3 L1283.6 2574.1 L1290.7 2574.0 L1297.9 2573.9 L1305.0 2573.8 L1312.2 2573.8 L1319.3 2573.7 L1326.5 2573.7 L1333.6 2573.7 L1340.8 2573.7 L1347.9 2573.8 L1355.1 2573.8 L1362.3 2573.9 L1369.4 2574.0 L1376.6 2574.1 L1383.7 2574.3 L1390.9 2574.4 L1398.0 2574.6 L1405.2 2574.8 L1412.3 2575.0 L1419.5 2575.2 L1426.6 2575.4 L1433.8 2575.7 L1440.9 2576.0 L1448.1 2576.3 L1455.2 2576.6 L1462.4 2576.9 L1469.5 2577.2 L1476.7 2577.6 L1483.9 2577.9 L1491.0 2578.3 L1498.2 2578.7 L1505.3 2579.1 L1512.5 2579.5 L1519.6 2579.9 L1526.8 2580.3 L1533.9 2580.7 L1541.1 2581.1 L1548.2 2581.5 L1555.4 2581.9 L1562.5 2582.3 L1569.7 2582.7 L1576.8 2583.1 L1584.0 2583.4 L1591.1 2583.7 L1598.3 2584.0 L1605.5 2584.3 L1612.6 2584.5 L1619.8 2584.7 L1626.9 2584.9 L1634.1 2585.0 L1641.2 2585.1 L1648.4 2585.2 L1655.5 2585.2 L1662.7 2585.2 L1669.8 2585.1 L1677.0 2585.1 L1684.1 2584.9 L1691.3 2584.8 L1698.4 2584.7 L1705.6 2584.5 L1712.7 2584.4 L1719.9 2584.2 L1727.1 2584.0 L1734.2 2583.9 L1741.4 2583.7 L1748.5 2583.6 L1755.7 2583.5 L1762.8 2583.4 L1770.0 2583.3 L1777.1 2583.3 L1784.3 2583.3 L1791.4 2583.4 L1798.6 2583.5 L1805.7 2583.6 L1812.9 2583.8 L1820.0 2584.1 L1827.2 2584.4 L1834.3 2584.7 L1841.5 2585.1 L1848.7 2585.5 L1855.8 2586.0 L1863.0 2586.5 L1870.1 2587.1 L1877.3 2587.6 L1884.4 2588.2 L1891.6 2588.9 L1898.7 2589.5 L1905.9 2590.2 L1913.0 2590.9 L1920.2 2591.6 L1927.3 2592.3 L1934.5 2593.1 L1941.6 2593.8 L1948.8 2594.6 L1955.9 2595.3 L1963.1 2596.1" fill="none" stroke="#008000" stroke-width="7.8" stroke-linejoin="round"/>
<path d="M520.7 2596.8 h38 v-3.2 L540.5 2563.3 h-1.6 L520.7 2593.6z" fill="#008000"/><path d="M678.8 2608.0 h38 v-3.2 L698.6 2574.5 h-1.6 L678.8 2604.8z" fill="#008000"/><path d="M837.0 2605.0 h38 v-3.2 L856.8 2571.5 h-1.6 L837.0 2601.8z" fill="#008000"/><path d="M995.1 2598.5 h38 v-3.2 L1014.9 2565.0 h-1.6 L995.1 2595.3z" fill="#008000"/><path d="M1153.3 2589.0 h38 v-3.2 L1173.1 2555.5 h-1.6 L1153.3 2585.8z" fill="#008000"/><path d="M1311.5 2583.9 h38 v-3.2 L1331.3 2550.4 h-1.6 L1311.5 2580.7z" fill="#008000"/><path d="M1469.6 2589.0 h38 v-3.2 L1489.4 2555.5 h-1.6 L1469.6 2585.8z" fill="#008000"/><path d="M1627.8 2600.6 h38 v-3.2 L1647.6 2567.1 h-1.6 L1627.8 2597.4z" fill="#008000"/><path d="M1785.9 2591.1 h38 v-3.2 L1805.7 2557.6 h-1.6 L1785.9 2587.9z" fill="#008000"/><path d="M1944.1 2608.0 h38 v-3.2 L1963.9 2574.5 h-1.6 L1944.1 2604.8z" fill="#008000"/>
<path d="M539.7 2179.4 L546.8 2184.2 L554.0 2189.0 L561.1 2193.8 L568.3 2198.6 L575.4 2203.3 L582.6 2208.0 L589.7 2212.5 L596.9 2217.0 L604.0 2221.5 L611.2 2225.8 L618.3 2230.0 L625.5 2234.0 L632.6 2237.9 L639.8 2241.7 L647.0 2245.3 L654.1 2248.7 L661.3 2252.0 L668.4 2255.0 L675.6 2257.9 L682.7 2260.5 L689.9 2262.9 L697.0 2265.0 L704.2 2266.9 L711.3 2268.5 L718.5 2270.0 L725.6 2271.1 L732.8 2272.1 L739.9 2272.9 L747.1 2273.6 L754.2 2274.0 L761.4 2274.3 L768.6 2274.5 L775.7 2274.6 L782.9 2274.5 L790.0 2274.4 L797.2 2274.1 L804.3 2273.8 L811.5 2273.5 L818.6 2273.1 L825.8 2272.7 L832.9 2272.3 L840.1 2271.9 L847.2 2271.5 L854.4 2271.1 L861.5 2270.8 L868.7 2270.5 L875.8 2270.2 L883.0 2270.0 L890.2 2269.8 L897.3 2269.6 L904.5 2269.3 L911.6 2269.1 L918.8 2268.9 L925.9 2268.6 L933.1 2268.3 L940.2 2267.9 L947.4 2267.5 L954.5 2267.1 L961.7 2266.6 L968.8 2265.9 L976.0 2265.2 L983.1 2264.5 L990.3 2263.6 L997.4 2262.6 L1004.6 2261.4 L1011.8 2260.2 L1018.9 2258.8 L1026.1 2257.3 L1033.2 2255.7 L1040.4 2253.9 L1047.5 2252.2 L1054.7 2250.3 L1061.8 2248.5 L1069.0 2246.6 L1076.1 2244.7 L1083.3 2242.8 L1090.4 2241.0 L1097.6 2239.3 L1104.7 2237.6 L1111.9 2236.1 L1119.1 2234.6 L1126.2 2233.3 L1133.4 2232.1 L1140.5 2231.2 L1147.7 2230.4 L1154.8 2229.8 L1162.0 2229.4 L1169.1 2229.3 L1176.3 2229.5 L1183.4 2229.9 L1190.6 2230.6 L1197.7 2231.5 L1204.9 2232.6 L1212.0 2233.9 L1219.2 2235.4 L1226.3 2237.0 L1233.5 2238.7 L1240.7 2240.6 L1247.8 2242.5 L1255.0 2244.5 L1262.1 2246.5 L1269.3 2248.5 L1276.4 2250.6 L1283.6 2252.6 L1290.7 2254.6 L1297.9 2256.5 L1305.0 2258.4 L1312.2 2260.1 L1319.3 2261.7 L1326.5 2263.2 L1333.6 2264.6 L1340.8 2265.7 L1347.9 2266.7 L1355.1 2267.6 L1362.3 2268.3 L1369.4 2268.9 L1376.6 2269.4 L1383.7 2269.9 L1390.9 2270.2 L1398.0 2270.5 L1405.2 2270.7 L1412.3 2270.8 L1419.5 2271.0 L1426.6 2271.1 L1433.8 2271.2 L1440.9 2271.3 L1448.1 2271.4 L1455.2 2271.5 L1462.4 2271.7 L1469.5 2271.9 L1476.7 2272.2 L1483.9 2272.6 L1491.0 2273.1 L1498.2 2273.6 L1505.3 2274.3 L1512.5 2275.0 L1519.6 2275.8 L1526.8 2276.6 L1533.9 2277.6 L1541.1 2278.5 L1548.2 2279.6 L1555.4 2280.6 L1562.5 2281.7 L1569.7 2282.9 L1576.8 2284.0 L1584.0 2285.2 L1591.1 2286.4 L1598.3 2287.5 L1605.5 2288.7 L1612.6 2289.9 L1619.8 2291.0 L1626.9 2292.1 L1634.1 2293.2 L1641.2 2294.3 L1648.4 2295.3 L1655.5 2296.3 L1662.7 2297.2 L1669.8 2298.1 L1677.0 2298.9 L1684.1 2299.7 L1691.3 2300.5 L1698.4 2301.2 L1705.6 2301.9 L1712.7 2302.6 L1719.9 2303.2 L1727.1 2303.9 L1734.2 2304.5 L1741.4 2305.0 L1748.5 2305.6 L1755.7 2306.1 L1762.8 2306.6 L1770.0 2307.1 L1777.1 2307.6 L1784.3 2308.1 L1791.4 2308.6 L1798.6 2309.1 L1805.7 2309.6 L1812.9 2310.0 L1820.0 2310.5 L1827.2 2311.0 L1834.3 2311.5 L1841.5 2312.0 L1848.7 2312.4 L1855.8 2312.9 L1863.0 2313.4 L1870.1 2313.9 L1877.3 2314.3 L1884.4 2314.8 L1891.6 2315.3 L1898.7 2315.8 L1905.9 2316.3 L1913.0 2316.7 L1920.2 2317.2 L1927.3 2317.7 L1934.5 2318.2 L1941.6 2318.7 L1948.8 2319.1 L1955.9 2319.6 L1963.1 2320.1" fill="none" stroke="#00f" stroke-width="8" stroke-linejoin="round"/>
<path d="M520.7 2167.8 h38 v3.2 L540.5 2201.3 h-1.6 L520.7 2171.0z" fill="#00f"/><path d="M678.8 2274.6 h38 v3.2 L698.6 2308.1 h-1.6 L678.8 2277.8z" fill="#00f"/><path d="M837.0 2255.6 h38 v3.2 L856.8 2289.1 h-1.6 L837.0 2258.8z" fill="#00f"/><path d="M995.1 2259.5 h38 v3.2 L1014.9 2293.0 h-1.6 L995.1 2262.7z" fill="#00f"/><path d="M1153.3 2195.2 h38 v3.2 L1173.1 2228.7 h-1.6 L1153.3 2198.4z" fill="#00f"/><path d="M1311.5 2266.4 h38 v3.2 L1331.3 2299.9 h-1.6 L1311.5 2269.6z" fill="#00f"/><path d="M1469.6 2253.5 h38 v3.2 L1489.4 2287.0 h-1.6 L1469.6 2256.7z" fill="#00f"/><path d="M1627.8 2287.4 h38 v3.2 L1647.6 2320.9 h-1.6 L1627.8 2290.6z" fill="#00f"/><path d="M1785.9 2297.9 h38 v3.2 L1805.7 2331.4 h-1.6 L1785.9 2301.1z" fill="#00f"/><path d="M1944.1 2308.5 h38 v3.2 L1963.9 2342.0 h-1.6 L1944.1 2311.7z" fill="#00f"/>
<path d="M697.8 1394.2 L1014.1 1386.1 L1330.5 1374.6 L1646.8 1374.5 L1963.1 1374.5" fill="none" stroke="#800080" stroke-width="7.5"/>
<path d="M680.5 1394.1 L697.8 1376.4 L715.1 1394.1 L697.8 1411.8z" fill="#fff" stroke="#800080" stroke-width="3.1"/><path d="M996.8 1386.5 L1014.1 1368.8 L1031.4 1386.5 L1014.1 1404.2z" fill="#fff" stroke="#800080" stroke-width="3.1"/><path d="M1313.2 1374.6 L1330.5 1356.9 L1347.8 1374.6 L1330.5 1392.3z" fill="#fff" stroke="#800080" stroke-width="3.1"/><path d="M1629.5 1374.7 L1646.8 1357.0 L1664.1 1374.7 L1646.8 1392.4z" fill="#fff" stroke="#800080" stroke-width="3.1"/><path d="M1945.8 1374.6 L1963.1 1356.9 L1980.4 1374.6 L1963.1 1392.3z" fill="#fff" stroke="#800080" stroke-width="3.1"/>
<g font-family="'Liberation Serif', 'Times New Roman', serif" fill="#000">
<text x="381.5" y="2723.8" font-size="109.5" font-weight="bold" text-anchor="middle">0</text>
<text x="645.1" y="2723.8" font-size="109.5" font-weight="bold" text-anchor="middle">50</text>
<text x="908.7" y="2723.8" font-size="109.5" font-weight="bold" text-anchor="middle">100</text>
<text x="1172.3" y="2723.8" font-size="109.5" font-weight="bold" text-anchor="middle">150</text>
<text x="1435.9" y="2723.8" font-size="109.5" font-weight="bold" text-anchor="middle">200</text>
<text x="1698.5" y="2723.8" font-size="109.5" font-weight="bold" text-anchor="middle">250</text>
<text x="1962.1" y="2723.8" font-size="109.5" font-weight="bold" text-anchor="middle">300</text>
<text x="246.1" y="1108.7" font-size="109.5" font-weight="bold">20</text>
<text x="246.1" y="2393.2" font-size="109.5" font-weight="bold">20</text>
<text x="246.1" y="861.4" font-size="109.5" font-weight="bold">40</text>
<text x="246.1" y="2146.0" font-size="109.5" font-weight="bold">40</text>
<text x="246.1" y="614.2" font-size="109.5" font-weight="bold">60</text>
<text x="246.1" y="1898.9" font-size="109.5" font-weight="bold">60</text>
<text x="246.1" y="366.9" font-size="109.5" font-weight="bold">80</text>
<text x="246.1" y="1651.7" font-size="109.5" font-weight="bold">80</text>
<text x="191.1" y="119.7" font-size="109.5" font-weight="bold">100</text>
<text x="191.1" y="1404.5" font-size="109.5" font-weight="bold">100</text>
<text x="977.0" y="2863.5" font-size="109.5" font-weight="bold">Time (min)</text>
<text transform="translate(137.0 1262.9) rotate(-90)" font-size="109.25" font-weight="bold">Conversion or yield (%)</text>
<text transform="translate(116.9 2549.0) rotate(-90)" font-size="110.2" font-weight="bold">Conversion or yield (%)</text>
<text x="436.7" y="180.4" font-size="109.5" font-weight="bold" >(a)</text>
<text x="437.7" y="1477.6" font-size="109.5" font-weight="bold" >(b)</text>
<text x="580.9" y="523.9" font-size="109.5" font-weight="bold" >6Ni</text>
<text x="460.1" y="1712.1" font-size="109.5" font-weight="bold">6Cu<tspan dy="9.6">_</tspan><tspan dy="-9.6">6Ni</tspan></text>
<text x="1058.5" y="361.4" font-size="89" font-weight="normal" >Yield of :</text>
<text x="1697.3" y="253.7" font-size="92" font-weight="normal" >X</text>
<text x="1763.3" y="298.4" font-size="72" font-weight="normal" >EtOH</text>
<text x="1737.8" y="1511.7" font-size="92" font-weight="normal" >X</text>
<text x="1802.4" y="1541.5" font-size="72" font-weight="normal" >EtOH</text>
<g fill="#000"><rect x="1053.9" y="455.70" width="69.7" height="7.3" rx="1.8"/><rect x="1156.0" y="455.70" width="70.1" height="7.3" rx="1.8"/></g>
<rect x="1125.5" y="444.9" width="28.5" height="29.0" rx="0.8" fill="#000"/>
<g fill="#f00"><rect x="1393.9" y="455.55" width="70.4" height="7.3" rx="1.8"/><rect x="1496.7" y="455.55" width="70.3" height="7.3" rx="1.8"/></g>
<circle cx="1480.5" cy="459.2" r="16.3" fill="#f00"/>
<g fill="#008000"><rect x="1053.9" y="589.65" width="69.8" height="7.3" rx="1.8"/><rect x="1156.1" y="589.65" width="70.0" height="7.3" rx="1.8"/></g>
<path d="M1120.9 605.2 h38 v-3.2 L1140.7 571.7 h-1.6 L1120.9 602.0z" fill="#008000"/>
<g fill="#00f"><rect x="1397.9" y="589.95" width="70.3" height="7.3" rx="1.8"/><rect x="1500.6" y="589.95" width="70.4" height="7.3" rx="1.8"/></g>
<path d="M1465.4 582.0 h38 v3.2 L1485.2 615.5 h-1.6 L1465.4 585.2z" fill="#00f"/>
<text x="1243.2" y="483.9" font-size="89" font-weight="normal" >H</text>
<text x="1307.0" y="508.4" font-size="75" font-weight="normal" >2</text>
<text x="1585.1" y="483.9" font-size="89" font-weight="normal" >CO</text>
<text x="1706.4" y="508.4" font-size="75" font-weight="normal" >2</text>
<text x="1243.7" y="617.8" font-size="89" font-weight="normal" >CO</text>
<text x="1587.4" y="617.8" font-size="89" font-weight="normal" >CH</text>
<text x="1710.9" y="643.0" font-size="72" font-weight="normal" >4</text>
<g fill="#000"><rect x="971.9" y="1571.00" width="69.7" height="7.3" rx="1.8"/><rect x="1074.0" y="1571.00" width="70.1" height="7.3" rx="1.8"/></g>
<rect x="1043.5" y="1560.2" width="28.5" height="29.0" rx="0.8" fill="#000"/>
<g fill="#f00"><rect x="1311.9" y="1570.85" width="70.4" height="7.3" rx="1.8"/><rect x="1414.7" y="1570.85" width="70.3" height="7.3" rx="1.8"/></g>
<circle cx="1398.5" cy="1574.5" r="16.3" fill="#f00"/>
<g fill="#008000"><rect x="971.9" y="1704.95" width="69.8" height="7.3" rx="1.8"/><rect x="1074.1" y="1704.95" width="70.0" height="7.3" rx="1.8"/></g>
<path d="M1038.9 1720.5 h38 v-3.2 L1058.7 1687.0 h-1.6 L1038.9 1717.3z" fill="#008000"/>
<g fill="#00f"><rect x="1315.9" y="1705.25" width="70.3" height="7.3" rx="1.8"/><rect x="1418.6" y="1705.25" width="70.4" height="7.3" rx="1.8"/></g>
<path d="M1383.4 1697.3 h38 v3.2 L1403.2 1730.8 h-1.6 L1383.4 1700.5z" fill="#00f"/>
<text x="1161.2" y="1599.2" font-size="89" font-weight="normal" >H</text>
<text x="1225.0" y="1623.7" font-size="75" font-weight="normal" >2</text>
<text x="1503.1" y="1599.2" font-size="89" font-weight="normal" >CO</text>
<text x="1624.4" y="1623.7" font-size="75" font-weight="normal" >2</text>
<text x="1161.7" y="1733.1" font-size="89" font-weight="normal" >CO</text>
<text x="1505.4" y="1733.1" font-size="89" font-weight="normal" >CH</text>
<text x="1628.9" y="1758.3" font-size="72" font-weight="normal" >4</text>
</g>
</svg>
</body></html>
